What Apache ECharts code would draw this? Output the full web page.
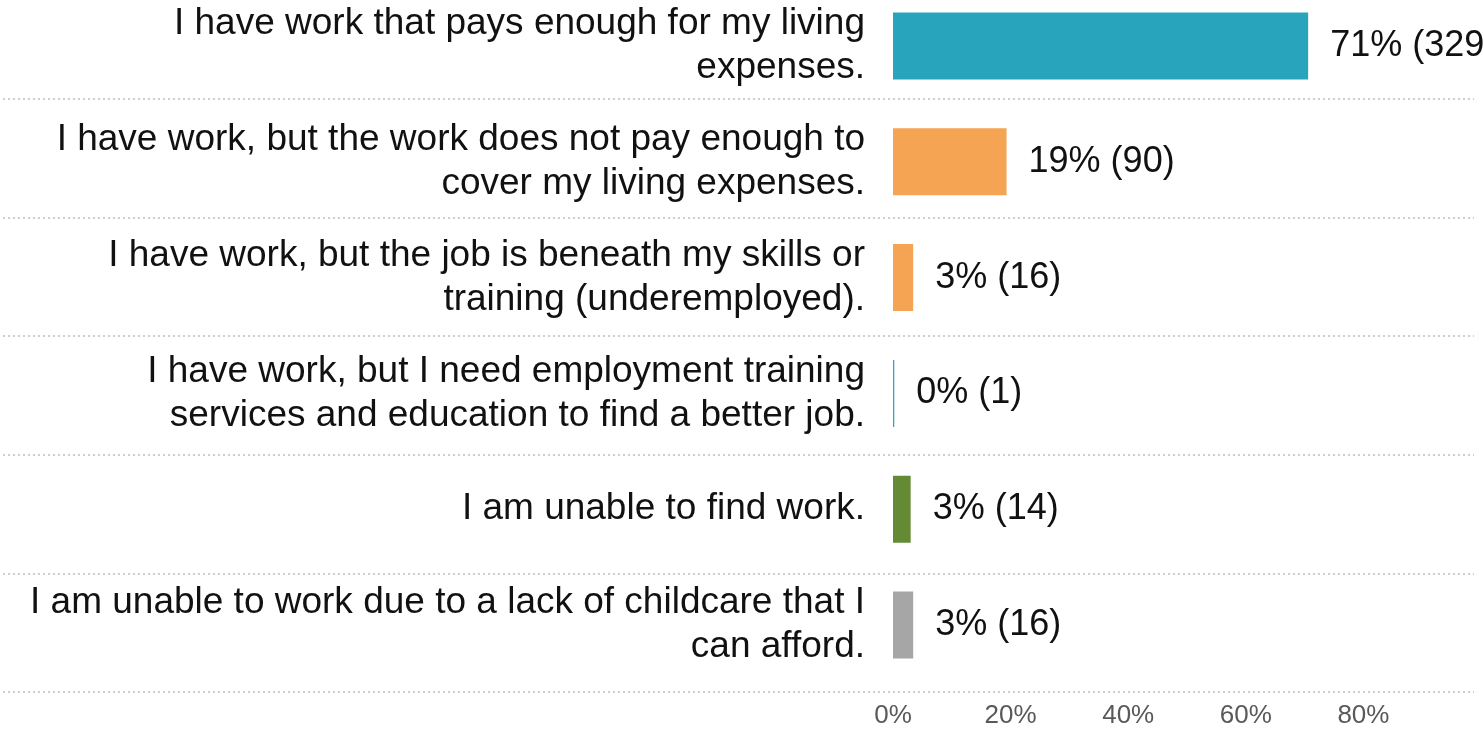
<!DOCTYPE html>
<html>
<head>
<meta charset="utf-8">
<script src="https://cdn.jsdelivr.net/npm/echarts@6/dist/echarts.min.js"></script>
<style>
    html, body { margin: 0; padding: 0; background: #fff; }
    #chart { width: 1484px; height: 729px; }
</style>
</head>
<body>
<div id="chart"></div>
<script>
// survey answers, top to bottom
const categories = [
    'I have work that pays enough for my living\nexpenses.',
    'I have work, but the work does not pay enough to\ncover my living expenses.',
    'I have work, but the job is beneath my skills or\ntraining (underemployed).',
    'I have work, but I need employment training\nservices and education to find a better job.',
    'I am unable to find work.',
    'I am unable to work due to a lack of childcare that I\ncan afford.'
];
const counts = [329, 90, 16, 1, 14, 16];
const respondents = 466;
const xTicks = [0, 20, 40, 60, 80];

const barColors = ['#29a4bd', '#f4a453', '#f4a453', '#29a4bd', '#658a34', '#a6a6a6'];
const font = "'Liberation Sans', Arial, sans-serif";

let chart = echarts.init(document.getElementById('chart'));

const percents = counts.map(c => c / respondents * 100);

const option = {
    animation: false,
    grid: [
        // bars: categories sit on the ticks (first at top edge, last at bottom edge)
        {left: 893, right: 0, top: 46, bottom: 102},
        // dotted separators below each answer, across the full width
        {left: 3, right: 10, top: 99, bottom: 37}
    ],
    xAxis: [
        {
            type: 'value',
            gridIndex: 0,
            min: 0,
            max: 100,
            interval: 20,
            splitLine: {show: false},
            axisLine: {show: false},
            axisTick: {show: false},
            axisLabel: {
                margin: 78,
                fontFamily: font,
                fontSize: 26,
                color: '#595959',
                formatter: v => xTicks.indexOf(v) >= 0 ? v + '%' : ''
            }
        },
        {type: 'value', gridIndex: 1, show: false, min: 0, max: 1}
    ],
    yAxis: [
        {
            type: 'category',
            gridIndex: 0,
            inverse: true,
            boundaryGap: false,
            data: categories,
            axisLine: {show: false},
            axisTick: {show: false},
            splitLine: {show: false},
            axisLabel: {
                margin: 28,
                align: 'right',
                fontFamily: font,
                fontSize: 37,
                lineHeight: 44,
                color: '#111'
            }
        },
        {
            type: 'category',
            gridIndex: 1,
            inverse: true,
            data: categories.slice(1),
            axisLine: {show: false},
            axisTick: {show: false},
            axisLabel: {show: false},
            splitLine: {
                show: true,
                lineStyle: {color: '#c9d1ce', width: 2, type: [2, 3]}
            }
        }
    ],
    series: [
        {
            type: 'bar',
            xAxisIndex: 0,
            yAxisIndex: 0,
            barWidth: 67,
            clip: false,
            data: percents.map((p, i) => ({
                value: p,
                itemStyle: {color: barColors[i]}
            })),
            label: {
                show: true,
                position: 'right',
                distance: 22,
                fontFamily: font,
                fontSize: 36,
                color: '#111',
                formatter: p => Math.round(p.value) + '% (' + counts[p.dataIndex] + ')'
            }
        }
    ]
};

chart.setOption(option);

window.addEventListener('resize', function () {
    chart.resize();
});
</script>
</body>
</html>
